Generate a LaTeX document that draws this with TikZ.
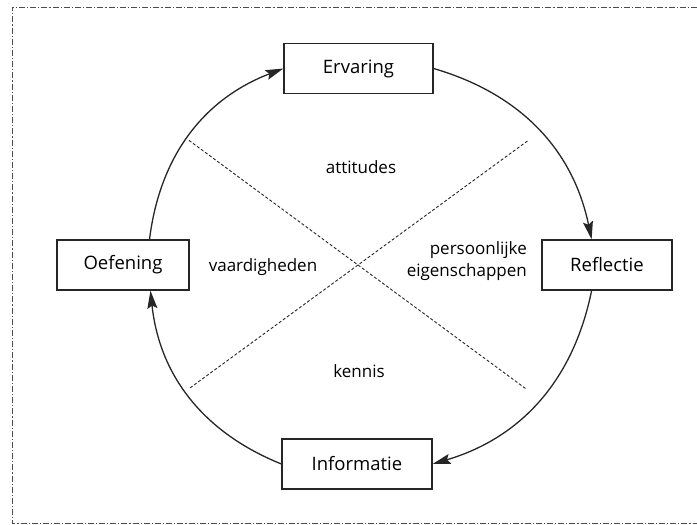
\documentclass[tikz,border=0pt]{standalone}
\usepackage{fontspec}
\setmainfont{Open Sans}
\usetikzlibrary{arrows.meta,calc}
\begin{document}
\begin{tikzpicture}[x=1pt,y=-1pt,
  box/.style={draw=black!85,line width=1.2pt,minimum height=50pt,inner sep=0pt,font=\fontsize{18.5}{20}\selectfont},
  lbl/.style={font=\fontsize{17}{22}\selectfont,inner sep=0pt},
  cyc/.style={line width=1.3pt,draw=black!85,-{Stealth[length=18pt,width=10pt,inset=3pt]},bend left=31},
  axis/.style={line width=0.9pt,dash pattern=on 3pt off 2pt,draw=black!85},
  frame/.style={line width=0.8pt,draw=black!70,dash pattern=on 6pt off 2pt on 1.2pt off 2pt}
]
\useasboundingbox (0,0) rectangle (697,525);
\draw[frame] (697,7) -- (12,7) -- (12,523) -- (697,523);
\node[box,minimum width=149pt] (E) at (358.5,68.5) {Ervaring};
\node[box,minimum width=130pt] (R) at (607,265) {Reflectie};
\node[box,minimum width=150pt] (I) at (357,464) {Informatie};
\node[box,minimum width=132pt] (O) at (123,265) {Oefening};
\coordinate (C) at (358,265);
\coordinate (a1) at ($(C)+(143.6:210pt)$);
\coordinate (a2) at ($(C)+(-36.4:210pt)$);
\coordinate (b1) at ($(C)+(36.2:210pt)$);
\coordinate (b2) at ($(C)+(216.2:210pt)$);
\draw[axis] (a1) -- (a2);
\draw[axis] (b1) -- (b2);
\draw[cyc] (O.44) to (E.west);
\draw[cyc] (E.east) to (R.121);
\draw[cyc] (R.239) to (I.east);
\draw[cyc] (I.west) to (O.-43);
\node[lbl] (att) at (361,167) {attitudes};
\node[lbl] (vaa) at (263,267) {vaardigheden};
\node[lbl,anchor=east,align=right] (per) at (527,261) {persoonlijke\\eigenschappen};
\node[lbl] (ken) at (359,371) {kennis};
\end{tikzpicture}
\end{document}
